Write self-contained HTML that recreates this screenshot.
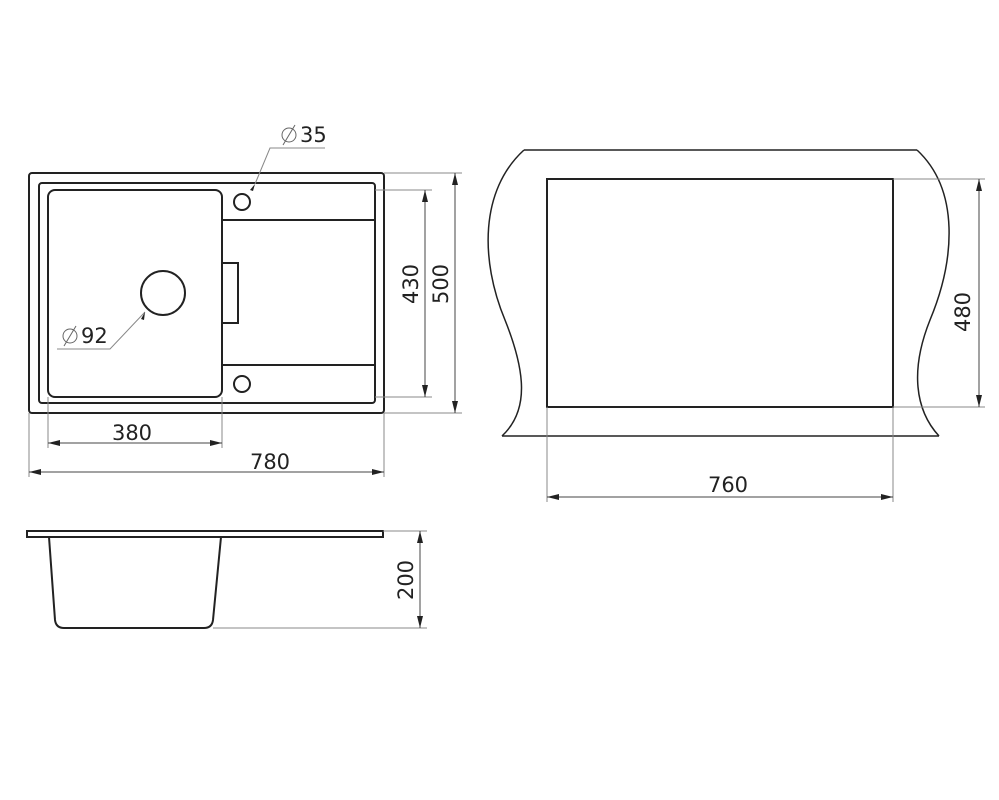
<!DOCTYPE html>
<html><head><style>html,body{margin:0;padding:0;background:#fff}svg{display:block}</style></head>
<body>
<svg width="999" height="800" viewBox="0 0 999 800" xmlns="http://www.w3.org/2000/svg" font-family="'DejaVu Sans','Liberation Sans',sans-serif">
<defs>
<marker id="a" viewBox="0 0 12 6" refX="12" refY="3" markerWidth="12" markerHeight="6" orient="auto-start-reverse" markerUnits="userSpaceOnUse"><path d="M0,0 L12,3 L0,6 z" fill="#222"/></marker>
</defs>
<g fill="none" stroke="#222" stroke-width="2">
<rect x="29" y="173" width="355" height="240" rx="3"/>
<rect x="39" y="183" width="336" height="220" rx="3"/>
<rect x="48" y="190" width="174" height="207" rx="7"/>
<path d="M222 220 H375 M222 365 H375"/>
<path d="M222 263 H238 V323 H222"/>
<circle cx="163" cy="293" r="22"/>
<circle cx="242" cy="202" r="8"/>
<circle cx="242" cy="384" r="8"/>
<!-- side view -->
<rect x="27" y="531" width="356" height="6"/>
<path d="M49 537 L55 620 Q56 628 64 628 L204 628 Q212 628 213 620 L221 537"/>
<!-- right view -->
<rect x="547" y="179" width="346" height="228"/>
</g>
<g fill="none" stroke="#222" stroke-width="1.5">
<path d="M524 150 H917 M502 436 H939"/>
<path d="M524 150 C480 190 480 260 505 320 C525 370 530 410 502 436"/>
<path d="M917 150 C960 190 955 260 930 320 C910 370 915 410 939 436"/>
</g>
<g fill="none" stroke="#888" stroke-width="1">
<path d="M255 184 L270 148 L325 148"/>
<path d="M145 312 L110 349 L57 349"/>
<path d="M375 190 H432 M375 397 H432 M384 173 H462 M384 413 H462"/>
<path d="M48 397 V448 M222 397 V448 M29 413 V477 M384 413 V477"/>
<path d="M383 531 H427 M213 628 H427"/>
<path d="M893 179 H985 M893 407 H985 M547 407 V502 M893 407 V502"/>
</g>
<g stroke="#444" stroke-width="1" marker-start="url(#a)" marker-end="url(#a)" fill="none">
<line x1="425" y1="190" x2="425" y2="397"/>
<line x1="455" y1="173" x2="455" y2="413"/>
<line x1="48" y1="443" x2="222" y2="443"/>
<line x1="29" y1="472" x2="384" y2="472"/>
<line x1="420" y1="531" x2="420" y2="628"/>
<line x1="979" y1="179" x2="979" y2="407"/>
<line x1="547" y1="497" x2="893" y2="497"/>
</g>
<path d="M255 184 l-5 6 l3 1 z M145 312 l-4 7 l3 1 z" fill="#222"/>
<g fill="#222" font-size="21">
<text x="132" y="440" text-anchor="middle">380</text>
<text x="270" y="469" text-anchor="middle">780</text>
<text x="728" y="492" text-anchor="middle">760</text>
<text transform="translate(418,284) rotate(-90)" text-anchor="middle">430</text>
<text transform="translate(448,284) rotate(-90)" text-anchor="middle">500</text>
<text transform="translate(413,580) rotate(-90)" text-anchor="middle">200</text>
<text transform="translate(970,312) rotate(-90)" text-anchor="middle">480</text>
<text x="300" y="142">35</text>
<text x="81" y="343">92</text>
</g>
<g fill="none" stroke="#666" stroke-width="1">
<circle cx="289" cy="135" r="7"/><line x1="283" y1="145" x2="295" y2="125"/>
<circle cx="70" cy="336" r="7"/><line x1="64" y1="346" x2="76" y2="326"/>
</g>
</svg>
</body></html>
